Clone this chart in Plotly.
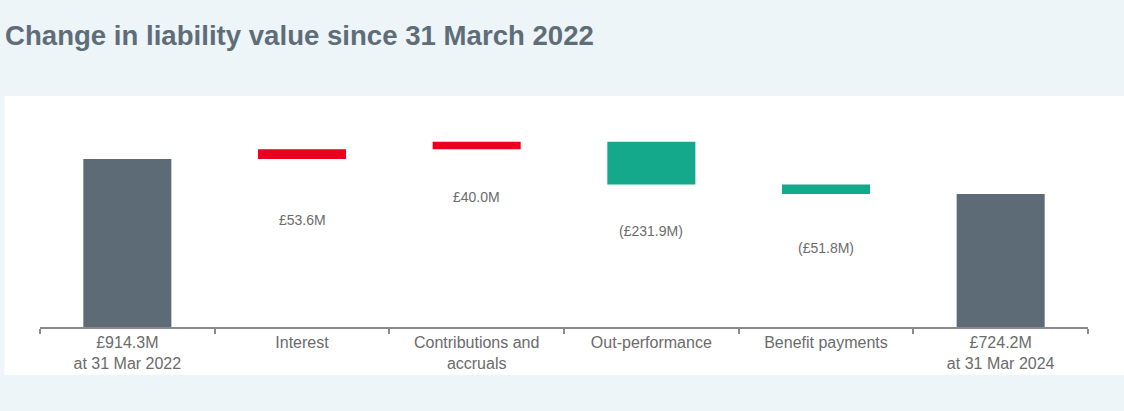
import plotly.graph_objects as go

# ── Data ─────────────────────────────────────────────────────
categories = ["start", "interest", "contrib", "outperf", "benefit", "end"]
tick_labels = [
    "£914.3M<br>at 31 Mar 2022",
    "Interest",
    "Contributions and<br>accruals",
    "Out-performance",
    "Benefit payments",
    "£724.2M<br>at 31 Mar 2024",
]
values = [914.3, 53.6, 40.0, -231.9, -51.8, 724.2]
measures = ["absolute", "relative", "relative", "relative", "relative", "total"]
change_labels = ["£53.6M", "£40.0M", "(£231.9M)", "(£51.8M)"]

GREY = "#5C6B76"
RED = "#E8001C"
GREEN = "#13A98A"
TEXT = "#6B6B6B"
BG = "#EDF5F8"

fig = go.Figure(go.Waterfall(
    x=categories, y=values, measure=measures,
    width=0.504,
    increasing=dict(marker=dict(color=RED)),
    decreasing=dict(marker=dict(color=GREEN)),
    totals=dict(marker=dict(color=GREY)),
    connector=dict(visible=False),
    hoverinfo="skip",
))

# value labels sit below each change bar
running = values[0]
shifts = [-61, -48, -47, -54]
for i, (cat, v, lab) in enumerate(zip(categories[1:5], values[1:5], change_labels)):
    bottom = min(running, running + v)
    running += v
    fig.add_annotation(
        x=cat, y=bottom, text=lab, showarrow=False,
        yanchor="middle", yshift=shifts[i],
        font=dict(size=14, color=TEXT),
    )

# white panel behind the chart
fig.add_shape(
    type="rect", xref="paper", yref="paper",
    x0=-0.034, x1=1.06, y0=-0.221, y1=1.065,
    fillcolor="white", line=dict(width=0), layer="below",
)

fig.update_layout(
    width=1124, height=411,
    margin=dict(l=40, r=36, t=110, b=84),
    paper_bgcolor=BG, plot_bgcolor="rgba(0,0,0,0)",
    font=dict(family="Liberation Sans, Arial, sans-serif", color=TEXT),
    title=dict(
        text="<b>Change in liability value since 31 March 2022</b>",
        x=5 / 1124, xref="container", xanchor="left",
        y=0.913, yref="container", yanchor="middle",
        font=dict(size=27.6, color="#5F6D78"),
    ),
    showlegend=False,
    xaxis=dict(
        tickmode="array", tickvals=categories, ticktext=tick_labels,
        tickson="boundaries", ticks="outside", ticklen=5,
        tickcolor="#8A8A8A", tickwidth=2,
        showline=True, linecolor="#8A8A8A", linewidth=2,
        showgrid=False, tickfont=dict(size=16, color=TEXT),
        fixedrange=True,
    ),
    yaxis=dict(
        range=[0, 1181], visible=False, showgrid=False,
        zeroline=False, fixedrange=True,
    ),
)

fig.write_html(
    "out.html",
    config={"displayModeBar": False},
    post_script="document.body.style.margin='0';",
)
